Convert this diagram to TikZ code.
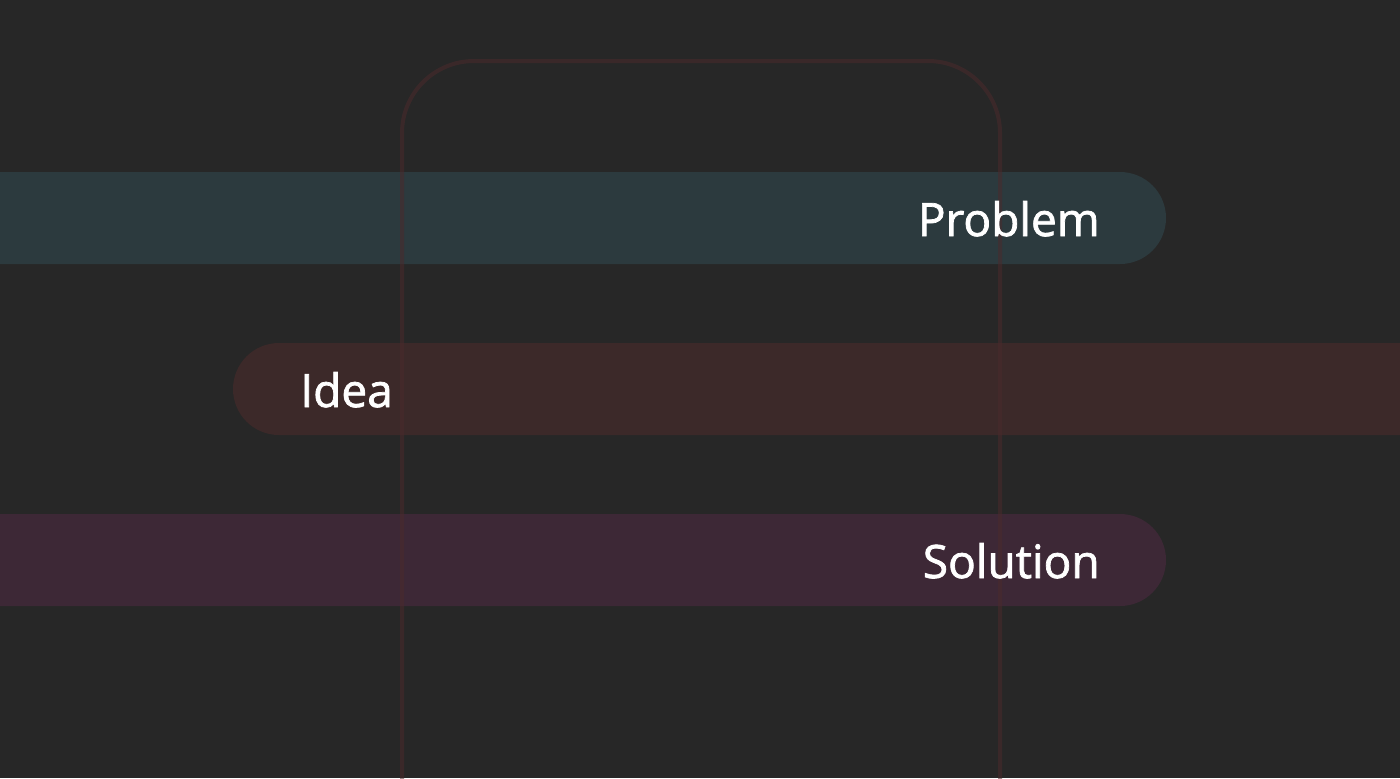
\documentclass[tikz,border=0pt]{standalone}
\usepackage{fontspec}
\setmainfont{Open Sans}
\newfontfamily\labelfont{Open Sans}[FakeBold=1.6]
\usepackage{xcolor}

\definecolor{bgdark}{HTML}{272727}
\definecolor{problemfill}{HTML}{2C3A3E}
\definecolor{ideafill}{HTML}{3C2929}
\definecolor{solutionfill}{HTML}{3D2836}
\definecolor{phoneline}{HTML}{4A2A2C}

\tikzset{
  bar/.style={inner sep=0pt, rounded corners=23pt, minimum height=46pt},
  barlabel/.style={text=white, font=\labelfont\fontsize{23}{28}\selectfont, inner sep=0pt}
}

\begin{document}
\begin{tikzpicture}[x=0.5pt, y=-0.5pt]
    \fill[bgdark] (0,0) rectangle (1400,778);
    \clip (0,0) rectangle (1400,778);
    \useasboundingbox (0,0) rectangle (1400,778);
    % bars
    \fill[problemfill, bar] (-100,172) rectangle (1166,264);
    \fill[ideafill, bar] (233,343) rectangle (1500,435);
    \fill[solutionfill, bar] (-100,514) rectangle (1166,606);
    % phone outline
    \draw[phoneline, line width=2pt, opacity=0.55, rounded corners=36pt]
        (402,800) -- (402,61) -- (1000,61) -- (1000,800);
    % labels
    \node[barlabel, anchor=base east] (problem) at (1100,236) {Problem};
    \node[barlabel, anchor=base west] (idea) at (300,407) {Idea};
    \node[barlabel, anchor=base east] (solution) at (1100,578) {Solution};
\end{tikzpicture}
\end{document}
